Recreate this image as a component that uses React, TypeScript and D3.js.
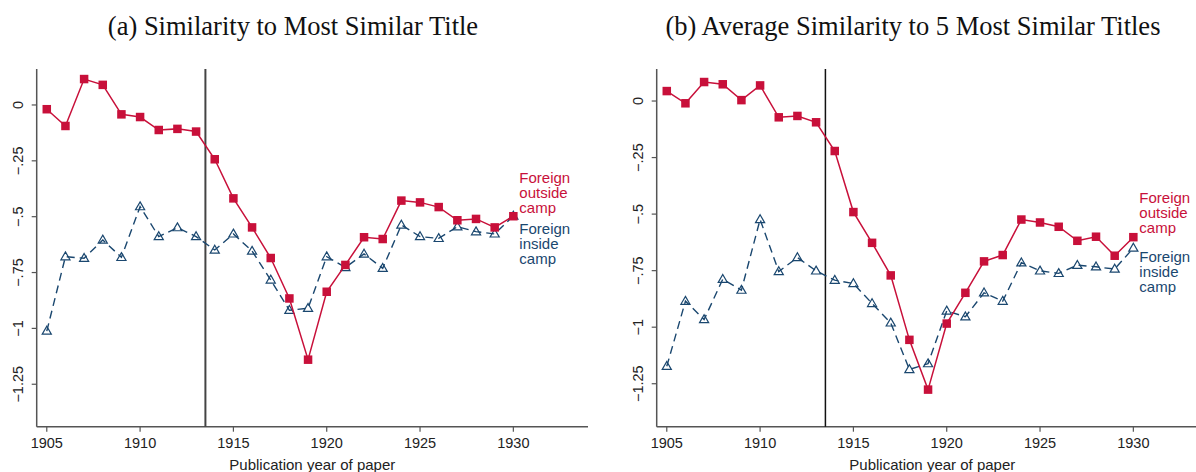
import * as d3 from 'd3';
import React, { useRef, useEffect } from 'react';

const years = [1905, 1906, 1907, 1908, 1909, 1910, 1911, 1912, 1913, 1914, 1915, 1916, 1917,
  1918, 1919, 1920, 1921, 1922, 1923, 1924, 1925, 1926, 1927, 1928, 1929, 1930];

// panel (a): similarity to most similar title
const outsideA = [-0.019, -0.094, 0.116, 0.09, -0.042, -0.054, -0.112, -0.107, -0.119, -0.243, -0.418,
  -0.548, -0.685, -0.866, -1.14, -0.836, -0.716, -0.592, -0.6, -0.428, -0.436, -0.457, -0.516, -0.51,
  -0.548, -0.498];
const insideA = [-1.012, -0.679, -0.686, -0.604, -0.682, -0.455, -0.589, -0.549, -0.589, -0.649, -0.577,
  -0.654, -0.783, -0.919, -0.91, -0.679, -0.727, -0.667, -0.731, -0.537, -0.589, -0.597, -0.545, -0.567,
  -0.577, -0.497];

// panel (b): average similarity to 5 most similar titles
const outsideB = [0.044, -0.01, 0.084, 0.074, 0.004, 0.069, -0.072, -0.066, -0.094, -0.221, -0.491,
  -0.627, -0.771, -1.056, -1.276, -0.984, -0.848, -0.709, -0.681, -0.524, -0.537, -0.556, -0.618, -0.6,
  -0.684, -0.602];
const insideB = [-1.173, -0.885, -0.966, -0.788, -0.836, -0.524, -0.754, -0.692, -0.751, -0.792, -0.807,
  -0.895, -0.981, -1.187, -1.161, -0.928, -0.954, -0.848, -0.885, -0.715, -0.751, -0.762, -0.726, -0.733,
  -0.743, -0.65];

const xTicks = [1905, 1910, 1915, 1920, 1925, 1930];
const yTicks = [0, -0.25, -0.5, -0.75, -1, -1.25];
const yTickLabels = ['0', '\u2212.25', '\u2212.5', '\u2212.75', '\u22121', '\u22121.25'];
const outsideLabel = ['Foreign', 'outside', 'camp'];
const insideLabel = ['Foreign', 'inside', 'camp'];
const cutoffYear = 1913.5;

const RED = '#c8103a';
const BLUE = '#1a476f';

function Panel({ g, outside, inside, x0, yTop, title, titleX, vlineColor, vlineWidth, redLabelY, blueLabelY }) {
  const top = 69, bottom = 426.7;
  const x = d3.scaleLinear().domain([1904.46, 1934]).range([x0, x0 + 551.3]);
  const y = d3.scaleLinear().domain([yTop, -1.44]).range([top, bottom]);

  g.append('text')
    .attr('x', titleX).attr('y', 35)
    .attr('text-anchor', 'middle')
    .attr('font-family', 'Liberation Serif, serif')
    .attr('font-size', 26.5)
    .attr('fill', '#111')
    .text(title);

  // axes
  g.append('line').attr('x1', x0).attr('x2', x0).attr('y1', top).attr('y2', bottom)
    .attr('stroke', '#555').attr('stroke-width', 1.5);
  g.append('line').attr('x1', x0).attr('x2', x0 + 551.3).attr('y1', bottom).attr('y2', bottom)
    .attr('stroke', '#555').attr('stroke-width', 1.5);

  xTicks.forEach((t) => {
    g.append('line').attr('x1', x(t)).attr('x2', x(t)).attr('y1', bottom).attr('y2', bottom + 5)
      .attr('stroke', '#555').attr('stroke-width', 1.2);
    g.append('text').attr('x', x(t)).attr('y', 448)
      .attr('text-anchor', 'middle')
      .attr('font-family', 'Liberation Sans, Arial, sans-serif')
      .attr('font-size', 14.5).attr('fill', '#222')
      .text(t);
  });
  yTicks.forEach((t, i) => {
    g.append('line').attr('x1', x0 - 5).attr('x2', x0).attr('y1', y(t)).attr('y2', y(t))
      .attr('stroke', '#555').attr('stroke-width', 1.2);
    g.append('text')
      .attr('transform', 'translate(' + (x0 - 14) + ',' + y(t) + ') rotate(-90)')
      .attr('text-anchor', 'middle')
      .attr('font-family', 'Liberation Sans, Arial, sans-serif')
      .attr('font-size', 14.5).attr('fill', '#222')
      .text(yTickLabels[i]);
  });

  g.append('text').attr('x', x0 + 275.6).attr('y', 470)
    .attr('text-anchor', 'middle')
    .attr('font-family', 'Liberation Sans, Arial, sans-serif')
    .attr('font-size', 15).attr('fill', '#222')
    .text('Publication year of paper');

  // cutoff line
  g.append('line').attr('x1', x(cutoffYear)).attr('x2', x(cutoffYear)).attr('y1', top).attr('y2', bottom)
    .attr('stroke', vlineColor).attr('stroke-width', vlineWidth);

  const line = d3.line<number>().x((d, i) => x(years[i])).y((d) => y(d));

  // inside camp: dashed navy with hollow triangles
  g.append('path').datum(inside)
    .attr('fill', 'none').attr('stroke', BLUE).attr('stroke-width', 1.4)
    .attr('stroke-dasharray', '8,5')
    .attr('d', line);
  const tri = d3.symbol().type(d3.symbolTriangle).size(36);
  g.selectAll(null).data(inside).enter().append('path')
    .attr('transform', (d, i) => 'translate(' + x(years[i]) + ',' + (y(d) + 0.5) + ')')
    .attr('d', tri)
    .attr('fill', 'none').attr('stroke', BLUE).attr('stroke-width', 1.2);

  // outside camp: solid red with squares
  g.append('path').datum(outside)
    .attr('fill', 'none').attr('stroke', RED).attr('stroke-width', 1.5)
    .attr('d', line);
  g.selectAll(null).data(outside).enter().append('rect')
    .attr('x', (d, i) => x(years[i]) - 4.25).attr('y', (d) => y(d) - 4.25)
    .attr('width', 8.5).attr('height', 8.5)
    .attr('fill', RED);

  const lx = x(1930) + 6;
  outsideLabel.forEach((s, i) => {
    g.append('text').attr('x', lx).attr('y', redLabelY + i * 15 + 5)
      .attr('font-family', 'Liberation Sans, Arial, sans-serif')
      .attr('font-size', 15).attr('fill', RED)
      .text(s);
  });
  insideLabel.forEach((s, i) => {
    g.append('text').attr('x', lx).attr('y', blueLabelY + i * 15 + 5)
      .attr('font-family', 'Liberation Sans, Arial, sans-serif')
      .attr('font-size', 15).attr('fill', BLUE)
      .text(s);
  });
}

function SimilarityChart() {
  const svgRef = useRef(null);

  useEffect(() => {
    const svg = d3.select(svgRef.current);
    svg.selectAll('*').remove();
    svg.append('rect').attr('width', 1196).attr('height', 472).attr('fill', '#fff');

    Panel({
      g: svg.append('g'), outside: outsideA, inside: insideA, x0: 36.7, yTop: 0.161,
      title: '(a) Similarity to Most Similar Title', titleX: 293,
      vlineColor: '#444', vlineWidth: 2, redLabelY: 178.3, blueLabelY: 229.3,
    });
    Panel({
      g: svg.append('g'), outside: outsideB, inside: insideB, x0: 656.7, yTop: 0.1416,
      title: '(b) Average Similarity to 5 Most Similar Titles', titleX: 913,
      vlineColor: '#111', vlineWidth: 1.5, redLabelY: 198.3, blueLabelY: 256.7,
    });
  }, []);

  return (
    <div style={{ position: 'fixed', left: 0, top: 0 }}>
      <svg ref={svgRef} width={1196} height={472} style={{ display: 'block' }}></svg>
    </div>
  );
}

export default function App() {
  return <SimilarityChart />;
}
